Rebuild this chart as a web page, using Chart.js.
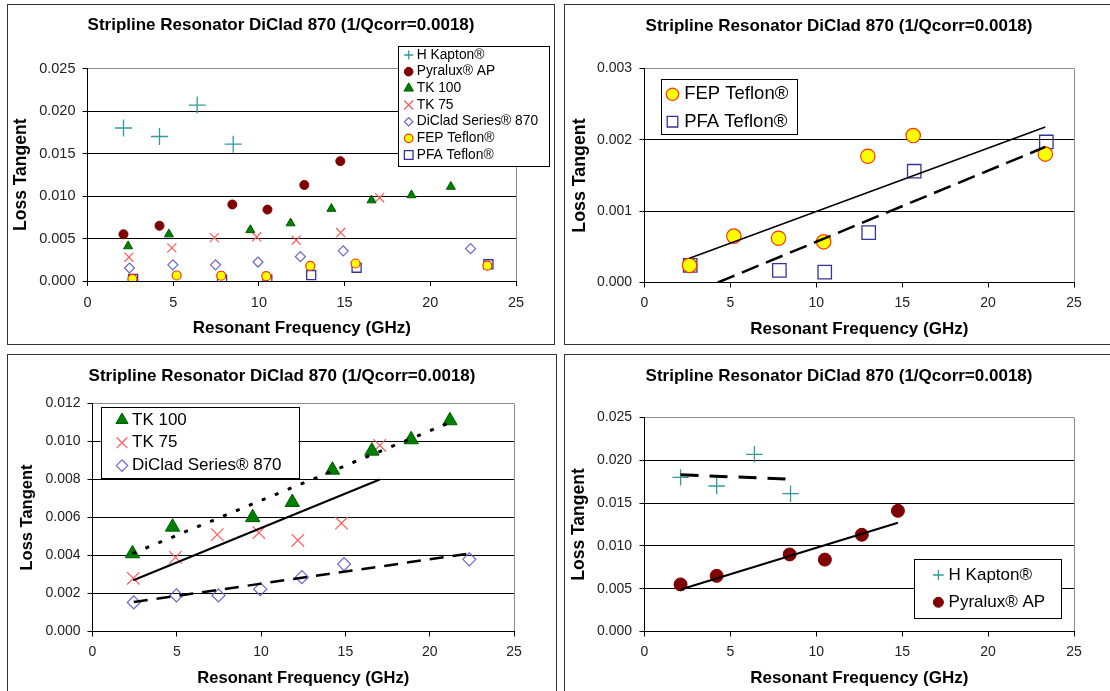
<!DOCTYPE html>
<html>
<head>
<meta charset="utf-8">
<title>Stripline Resonator DiClad 870</title>
<script src="https://cdn.jsdelivr.net/npm/chart.js"></script>
<style>
  html, body { margin: 0; padding: 0; background: #fff; }
  body { position: relative; width: 1110px; height: 691px; overflow: hidden; }
  .panel { position: absolute; border: 1px solid #333; background: #fff; overflow: hidden; }
  .panel canvas { position: absolute; left: 0; top: 0; }
  #p1 { left: 7px;   top: 4px;   width: 546px; height: 339px; }
  #p2 { left: 564px; top: 4px;   width: 560px; height: 339px; }
  #p3 { left: 7px;   top: 354px; width: 548px; height: 360px; }
  #p4 { left: 564px; top: 354px; width: 560px; height: 360px; }
</style>
</head>
<body>
<div class="panel" id="p1"><canvas id="c1" width="546" height="339"></canvas></div>
<div class="panel" id="p2"><canvas id="c2" width="545" height="339"></canvas></div>
<div class="panel" id="p3"><canvas id="c3" width="548" height="336"></canvas></div>
<div class="panel" id="p4"><canvas id="c4" width="545" height="336"></canvas></div>

<script>
'use strict';

// ── Texts ─────────────────────────────────────────────────────────────────────
const TITLE   = 'Stripline Resonator DiClad 870 (1/Qcorr=0.0018)';
const X_TITLE = 'Resonant Frequency (GHz)';
const Y_TITLE = 'Loss Tangent';

// ── Tick values ───────────────────────────────────────────────────────────────
const freqTicks   = [0, 5, 10, 15, 20, 25];
const lossTicks25 = [0, 0.005, 0.010, 0.015, 0.020, 0.025];
const lossTicks3  = [0, 0.001, 0.002, 0.003];
const lossTicks12 = [0, 0.002, 0.004, 0.006, 0.008, 0.010, 0.012];

// ── Measured points (GHz / loss tangent) ──────────────────────────────────────
const kaptonX  = [2.1, 4.2, 6.4, 8.5];
const kaptonY  = [0.0180, 0.0170, 0.0207, 0.0161];
const pyraluxX = [2.1, 4.2, 8.45, 10.5, 12.65, 14.75];
const pyraluxY = [0.0055, 0.0065, 0.0090, 0.0084, 0.0113, 0.0141];
const tk100X   = [2.37, 4.75, 9.5, 11.85, 14.23, 16.57, 18.9, 21.2];
const tk100Y   = [0.0041, 0.0055, 0.0060, 0.0068, 0.0085, 0.0095, 0.0101, 0.0111];
const tk75X    = [2.42, 4.92, 7.4, 9.87, 12.18, 14.77, 17.04];
const tk75Y    = [0.0028, 0.0039, 0.0051, 0.0052, 0.0048, 0.0057, 0.0098];
const dicladX  = [2.45, 4.98, 7.47, 9.95, 12.42, 14.92, 22.35];
const dicladY  = [0.00153, 0.0019, 0.0019, 0.00223, 0.00286, 0.00355, 0.0038];
const fepX     = [2.62, 5.2, 7.8, 10.43, 13.0, 15.64, 23.33];
const fepY     = [0.00024, 0.00065, 0.00062, 0.00057, 0.00177, 0.00206, 0.0018];
const pfaX     = [2.66, 7.85, 10.49, 13.05, 15.7, 23.39];
const pfaY     = [0.00024, 0.00017, 0.000145, 0.0007, 0.00156, 0.00197];

// ── Trendline end points (as drawn) ───────────────────────────────────────────
const fepTrendX     = [2.62, 23.33];
const fepTrendY     = [0.00034, 0.00218];
const pfaTrendX     = [4.27, 23.33];
const pfaTrendY     = [0, 0.0019];
const tk100TrendX   = [2.37, 21.2];
const tk100TrendY   = [0.0041, 0.0110];
const tk75TrendX    = [2.42, 17.04];
const tk75TrendY    = [0.0027, 0.0080];
const dicladTrendX  = [2.45, 22.35];
const dicladTrendY  = [0.00155, 0.0041];
const kaptonTrendX  = [2.1, 8.5];
const kaptonTrendY  = [0.0183, 0.0178];
const pyraluxTrendX = [2.1, 14.75];
const pyraluxTrendY = [0.0049, 0.0127];

// ── Styles ────────────────────────────────────────────────────────────────────
const FONT = "'Liberation Sans', Arial, sans-serif";
const NONE = 'rgba(0,0,0,0)';

const STYLE = {
  kapton:  { label: 'H Kapton®',          pointStyle: 'cross',    backgroundColor: '#339999', borderColor: '#339999', borderWidth: 1.3 },
  pyralux: { label: 'Pyralux® AP',        pointStyle: 'circle',   backgroundColor: '#800000', borderColor: '#800000', borderWidth: 1 },
  tk100:   { label: 'TK 100',             pointStyle: 'triangle', backgroundColor: '#008000', borderColor: '#005a00', borderWidth: 1 },
  tk75:    { label: 'TK 75',              pointStyle: 'crossRot', backgroundColor: '#ff5a5a', borderColor: '#ff5a5a', borderWidth: 1.2 },
  diclad:  { label: 'DiClad Series® 870', pointStyle: 'rectRot',  backgroundColor: NONE,      borderColor: '#6666cc', borderWidth: 1.2 },
  fep:     { label: 'FEP Teflon®',        pointStyle: 'circle',   backgroundColor: '#ffff00', borderColor: '#ff3300', borderWidth: 1.2 },
  pfa:     { label: 'PFA Teflon®',        pointStyle: 'rect',     backgroundColor: NONE,      borderColor: '#333399', borderWidth: 1.3 }
};

const pts = (xs, ys) => xs.map((x, i) => ({ x, y: ys[i] }));

function series(key, xs, ys, radius) {
  return Object.assign({}, STYLE[key], { data: pts(xs, ys), pointRadius: radius, pointHoverRadius: radius });
}

function trend(xs, ys, width, dash) {
  return {
    trend: true, data: pts(xs, ys), showLine: true,
    pointRadius: 0, pointHoverRadius: 0,
    borderColor: '#000', borderWidth: width, borderDash: dash, borderCapStyle: 'butt'
  };
}

// ── Plugins ───────────────────────────────────────────────────────────────────
// Excel centres the title over the whole chart object, not the plot area
const titleShift = {
  id: 'titleShift',
  afterLayout(chart, args, opts) {
    const t = chart.titleBlock;
    if (!t || opts.center == null) return;
    const half = (t.right - t.left) / 2;
    t.left = opts.center - half;
    t.right = opts.center + half;
  }
};

// boxed legend sitting inside the plot like the Excel one
const boxLegend = {
  id: 'boxLegend',
  afterDraw(chart, args, o) {
    const ctx = chart.ctx;
    const items = chart.data.datasets.filter(ds => !ds.trend);
    ctx.save();
    ctx.fillStyle = '#fff';
    ctx.fillRect(o.left, o.top, o.width, o.height);
    ctx.strokeStyle = '#000';
    ctx.lineWidth = 1;
    ctx.strokeRect(Math.round(o.left) + 0.5, Math.round(o.top) + 0.5, Math.round(o.width), Math.round(o.height));
    ctx.font = o.fontSize + 'px ' + FONT;
    ctx.textBaseline = 'middle';
    ctx.textAlign = 'left';
    items.forEach((ds, i) => {
      const y = o.firstRow + i * o.rowGap;
      ctx.fillStyle = ds.backgroundColor;
      ctx.strokeStyle = ds.borderColor;
      ctx.lineWidth = ds.borderWidth;
      Chart.helpers.drawPoint(ctx, {
        pointStyle: ds.pointStyle, radius: o.markerSizes[i], borderWidth: ds.borderWidth, rotation: 0
      }, o.markerX, y);
      ctx.fillStyle = '#000';
      ctx.fillText(ds.label, o.textX, y);
    });
    ctx.restore();
  }
};

// ── Panel builder ─────────────────────────────────────────────────────────────
function makePanel(id, p) {
  const canvas = document.getElementById(id);
  const W = canvas.width, H = canvas.height;
  const lh = s => s * 1.2;
  const xMax = freqTicks[freqTicks.length - 1];
  const yMax = p.yTicks[p.yTicks.length - 1];

  return new Chart(canvas, {
    type: 'scatter',
    data: { datasets: p.datasets },
    plugins: [titleShift, boxLegend],
    options: {
      responsive: false,
      animation: false,
      devicePixelRatio: 1,
      events: [],
      layout: { padding: { left: 0, top: 0, bottom: 0, right: W - p.area.right } },
      plugins: {
        legend: { display: false },
        tooltip: { enabled: false },
        title: {
          display: true, text: TITLE, color: '#000',
          font: { family: FONT, size: p.titleSize, weight: 'bold' },
          padding: { top: p.titleY - lh(p.titleSize) / 2, bottom: p.area.top - p.titleY - lh(p.titleSize) / 2 }
        },
        titleShift: { center: p.titleX },
        boxLegend: p.legend
      },
      scales: {
        x: {
          type: 'linear', min: freqTicks[0], max: xMax,
          afterBuildTicks: s => { s.ticks = freqTicks.map(v => ({ value: v })); },
          afterFit: s => { s.height = H - p.area.bottom; },
          border: { display: true, color: '#000', width: 1 },
          grid: {
            color: c => (c.tick && c.tick.value === xMax) ? '#8c8c8c' : NONE,
            tickColor: '#000', tickLength: 5, drawTicks: true
          },
          ticks: {
            color: '#222', font: { family: FONT, size: p.tickSize },
            padding: p.xTickPad, maxRotation: 0, autoSkip: false,
            callback: v => String(v)
          },
          title: {
            display: true, text: X_TITLE, color: '#000',
            font: { family: FONT, size: p.xTitleSize, weight: 'bold' },
            padding: { top: 0, bottom: H - p.xTitleY - lh(p.xTitleSize) / 2 }
          }
        },
        y: {
          type: 'linear', min: p.yTicks[0], max: yMax,
          afterBuildTicks: s => { s.ticks = p.yTicks.map(v => ({ value: v })); },
          afterFit: s => { s.width = p.area.left; },
          border: { display: true, color: '#000', width: 1 },
          grid: {
            color: c => (c.tick && Math.abs(c.tick.value - yMax) < 1e-9) ? '#8c8c8c' : '#000',
            tickColor: '#000', tickLength: 5, drawTicks: true
          },
          ticks: {
            color: '#222', font: { family: FONT, size: p.tickSize },
            padding: p.yTickPad, autoSkip: false,
            callback: v => Number(v).toFixed(3)
          },
          title: {
            display: true, text: Y_TITLE, color: '#000',
            font: { family: FONT, size: p.yTitleSize, weight: 'bold' },
            padding: { top: p.yTitleX - lh(p.yTitleSize) / 2, bottom: 0 }
          }
        }
      }
    }
  });
}

// ── Top left: all materials ───────────────────────────────────────────────────
makePanel('c1', {
  area: { left: 79.5, right: 508, top: 63.5, bottom: 276 },
  yTicks: lossTicks25,
  titleX: 273, titleY: 20.3, titleSize: 17,
  yTitleX: 13, yTitleSize: 17.5,
  xTitleY: 323.3, xTitleSize: 17,
  tickSize: 14.5, yTickPad: 7, xTickPad: 8,
  datasets: [
    series('kapton', kaptonX, kaptonY, 8.5),
    series('pyralux', pyraluxX, pyraluxY, 4.5),
    series('tk100', tk100X, tk100Y, 5.2),
    series('tk75', tk75X, tk75Y, 6.4),
    series('diclad', dicladX, dicladY, 5),
    series('fep', fepX, fepY, 4.5),
    series('pfa', pfaX, pfaY, 6.4)
  ],
  legend: {
    left: 390, top: 41, width: 151, height: 120,
    firstRow: 50, rowGap: 16.67, markerX: 400.7, textX: 408.7, fontSize: 13.8,
    markerSizes: [4.5, 4.3, 5.5, 6.4, 4.2, 4.3, 6.1]
  }
});

// ── Top right: Teflons ────────────────────────────────────────────────────────
makePanel('c2', {
  area: { left: 79.5, right: 509, top: 63.5, bottom: 277.5 },
  yTicks: lossTicks3,
  titleX: 274, titleY: 21, titleSize: 17,
  yTitleX: 15, yTitleSize: 17.8,
  xTitleY: 324, xTitleSize: 17,
  tickSize: 14, yTickPad: 7.5, xTickPad: 7.4,
  datasets: [
    trend(fepTrendX, fepTrendY, 1.5, []),
    trend(pfaTrendX, pfaTrendY, 2.5, [18, 8]),
    series('fep', fepX, fepY, 7.2),
    series('pfa', pfaX, pfaY, 9.5)
  ],
  legend: {
    left: 95.5, top: 74.3, width: 136, height: 55.4,
    firstRow: 89.3, rowGap: 27.4, markerX: 107.5, textX: 119.2, fontSize: 18.5,
    markerSizes: [6.2, 7.5]
  }
});

// ── Bottom left: TK and DiClad ────────────────────────────────────────────────
makePanel('c3', {
  area: { left: 84.5, right: 506, top: 48.5, bottom: 276.5 },
  yTicks: lossTicks12,
  titleX: 274, titleY: 21, titleSize: 17,
  yTitleX: 19.3, yTitleSize: 16.5,
  xTitleY: 323.3, xTitleSize: 16.5,
  tickSize: 14, yTickPad: 7, xTickPad: 7.4,
  datasets: [
    trend(tk100TrendX, tk100TrendY, 3, [4, 10]),
    trend(tk75TrendX, tk75TrendY, 2, []),
    trend(dicladTrendX, dicladTrendY, 2.5, [14, 9]),
    series('tk100', tk100X, tk100Y, 8.3),
    series('tk75', tk75X, tk75Y, 8.8),
    series('diclad', dicladX, dicladY, 6.5)
  ],
  legend: {
    left: 92.5, top: 52.3, width: 198, height: 71,
    firstRow: 65, rowGap: 22.8, markerX: 114, textX: 124, fontSize: 17,
    markerSizes: [7, 7.5, 5.7]
  }
});

// ── Bottom right: Kapton and Pyralux ──────────────────────────────────────────
makePanel('c4', {
  area: { left: 79.5, right: 509, top: 62.5, bottom: 276.5 },
  yTicks: lossTicks25,
  titleX: 274, titleY: 21, titleSize: 17,
  yTitleX: 14, yTitleSize: 17.5,
  xTitleY: 323.3, xTitleSize: 17,
  tickSize: 14, yTickPad: 7.5, xTickPad: 7,
  datasets: [
    trend(kaptonTrendX, kaptonTrendY, 3, [18, 11]),
    trend(pyraluxTrendX, pyraluxTrendY, 2, []),
    series('kapton', kaptonX, kaptonY, 8.2),
    series('pyralux', pyraluxX, pyraluxY, 6.5)
  ],
  legend: {
    left: 349, top: 203.7, width: 147, height: 58.6,
    firstRow: 220, rowGap: 27.3, markerX: 373.4, textX: 383.6, fontSize: 17,
    markerSizes: [5.3, 5]
  }
});
</script>
</body>
</html>
